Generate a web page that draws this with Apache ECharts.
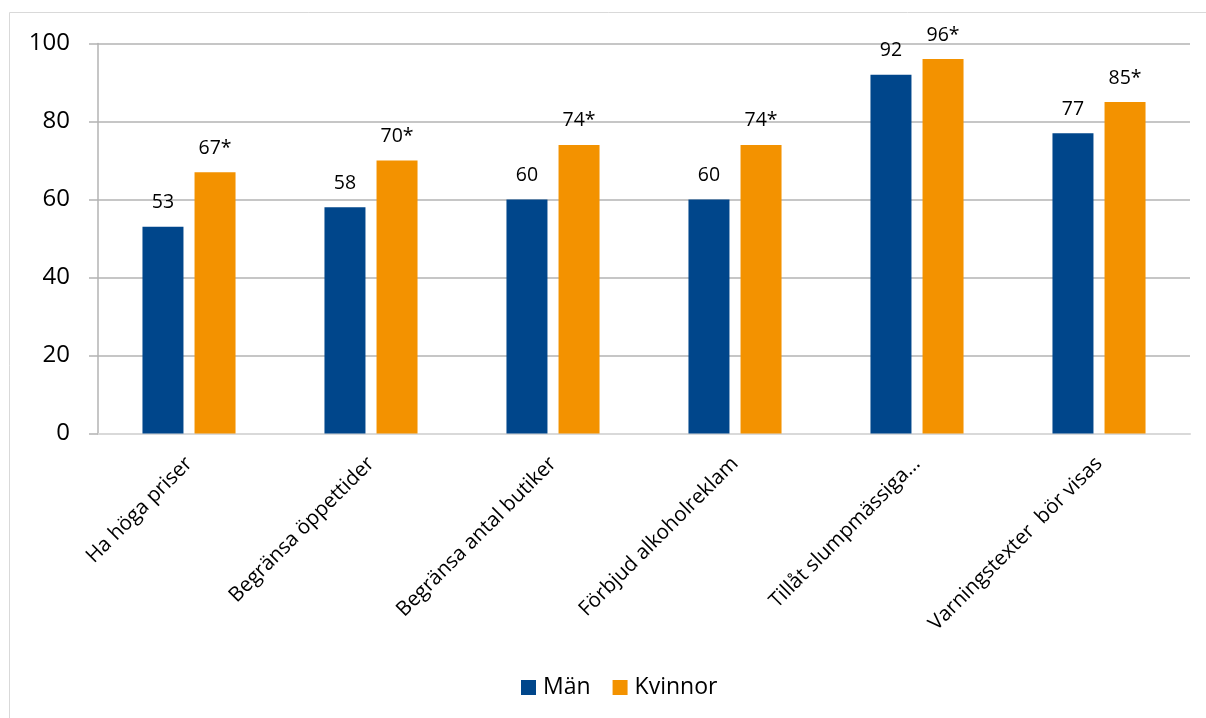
<!DOCTYPE html>
<html>
<head>
<meta charset="utf-8">
<script src="https://cdn.jsdelivr.net/npm/echarts@6/dist/echarts.min.js"></script>
<style>
  html, body { margin: 0; padding: 0; background: #fff; }
  #chart { width: 1206px; height: 718px; }
</style>
</head>
<body>
<div id="chart"></div>
<script>
// Attityder till alkoholpolitiska åtgärder, andel (%) per kön
const categories = [
  'Ha höga priser',
  'Begränsa öppettider',
  'Begränsa antal butiker',
  'Förbjud alkoholreklam',
  'Tillåt slumpmässiga...',
  'Varningstexter  bör visas'
];
const seriesNames = ['Män', 'Kvinnor'];
const manValues = [53, 58, 60, 60, 92, 77];
const kvinnorValues = [67, 70, 74, 74, 96, 85];
// Signifikant skillnad mot män markeras med asterisk
const kvinnorMarks = ['*', '*', '*', '*', '*', '*'];
const yTicks = [0, 20, 40, 60, 80, 100];

const FONT = 'Open Sans';
const chart = echarts.init(document.getElementById('chart'));

chart.setOption({
  animation: false,
  textStyle: { fontFamily: FONT, color: '#000' },
  graphic: [{
    type: 'rect',
    shape: { x: 9.5, y: 12.5, width: 1300, height: 800 },
    style: { fill: 'none', stroke: '#d9d9d9', lineWidth: 1 },
    silent: true
  }],
  grid: { left: 98, right: 16, top: 43.5, bottom: 284.5, containLabel: false },
  legend: {
    data: seriesNames,
    bottom: 14,
    left: 516,
    icon: 'rect',
    itemWidth: 15,
    itemHeight: 15,
    itemGap: 22,
    textStyle: { fontFamily: FONT, fontSize: 23, color: '#000', padding: [0, 0, 0, 2] }
  },
  xAxis: {
    type: 'category',
    data: categories,
    axisLine: { show: true, lineStyle: { color: '#d9d9d9', width: 2 } },
    axisTick: { show: false },
    axisLabel: {
      interval: 0,
      rotate: 45,
      margin: 27,
      fontFamily: FONT,
      fontSize: 20.5,
      color: '#000'
    }
  },
  yAxis: {
    type: 'value',
    min: yTicks[0],
    max: yTicks[yTicks.length - 1],
    interval: 20,
    axisLine: { show: true, lineStyle: { color: '#b3b3b3', width: 1.5 } },
    axisTick: { show: true, length: 9, lineStyle: { color: '#b3b3b3', width: 1.5 } },
    splitLine: { show: true, lineStyle: { color: '#b3b3b3', width: 1.5 } },
    axisLabel: {
      margin: 28,
      fontFamily: FONT,
      fontSize: 24,
      color: '#000'
    }
  },
  series: [
    {
      name: seriesNames[0],
      type: 'bar',
      data: manValues,
      barWidth: 41,
      barGap: '27%',
      itemStyle: { color: '#00468B' },
      label: {
        show: true,
        position: 'top',
        distance: 14,
        fontFamily: FONT,
        fontSize: 19.5,
        color: '#000',
        formatter: p => String(p.value)
      }
    },
    {
      name: seriesNames[1],
      type: 'bar',
      data: kvinnorValues,
      barWidth: 41,
      itemStyle: { color: '#F39200' },
      label: {
        show: true,
        position: 'top',
        distance: 14,
        fontFamily: FONT,
        fontSize: 19.5,
        color: '#000',
        formatter: p => p.value + kvinnorMarks[p.dataIndex]
      }
    }
  ]
});
</script>
</body>
</html>
